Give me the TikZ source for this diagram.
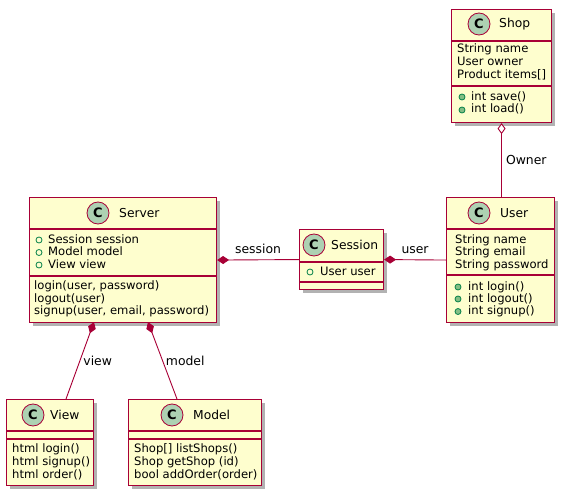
\documentclass[tikz,border=0pt]{standalone}
\usepackage{fontspec}
\setmainfont{DejaVu Sans}
\usetikzlibrary{arrows.meta, shadows}

\definecolor{umlred}{HTML}{A80036}
\definecolor{umlfill}{HTML}{FEFECE}
\definecolor{umlcircle}{HTML}{ADD1B2}
\definecolor{fieldgreen}{HTML}{038048}
\definecolor{methodgreen}{HTML}{84BE84}

\begin{document}
\begin{tikzpicture}[x=1pt, y=-1pt,
    classbox/.style={draw=umlred, fill=umlfill, line width=1.1pt, inner sep=0pt, anchor=north west,
        drop shadow={shadow xshift=3.5pt, shadow yshift=-3.5pt, fill=black, opacity=0.3}},
    sepline/.style={umlred, line width=1.1pt},
    ccircle/.style={circle, draw=umlred, fill=umlcircle, line width=0.8pt, minimum size=22pt, inner sep=0pt,
        font=\fontsize{13}{14}\selectfont\bfseries},
    classname/.style={anchor=west, inner sep=0pt, font=\fontsize{12.3}{14}\selectfont},
    member/.style={anchor=west, inner sep=0pt, text height=8.5pt, text depth=2.5pt, font=\fontsize{11.6}{13}\selectfont},
    field/.style={circle, draw=fieldgreen, line width=0.8pt, minimum size=6pt, inner sep=0pt},
    method/.style={field, fill=methodgreen},
    comp/.style={draw=umlred, line width=0.9pt, arrows={Diamond[length=12pt, width=8pt, fill=umlred]-}},
    aggr/.style={draw=umlred, line width=0.9pt, arrows={Diamond[open, length=11pt, width=8pt, fill=white]-}},
    edgelabel/.style={font=\fontsize{12.4}{14}\selectfont, inner sep=3pt}
]
    \useasboundingbox (0,0) rectangle (563,495);

    % Shop class
    \node[classbox, minimum width=100pt, minimum height=113pt] (shop) at (451,9) {};
    \draw[sepline] (451,41) -- (551,41);
    \draw[sepline] (451,86) -- (551,86);
    \node[ccircle] (shop-c) at (479,24) {C};
    \node[classname] (shop-name) at (499,24) {Shop};
    \node[member] (shop-a1) at (457,50) {String name};
    \node[member] (shop-a2) at (457,63) {User owner};
    \node[member] (shop-a3) at (457,76) {Product items[]};
    \node[method] (shop-v1) at (462,97) {};
    \node[method] (shop-v2) at (462,110) {};
    \node[member] (shop-m1) at (471,97) {int save()};
    \node[member] (shop-m2) at (471,110) {int load()};

    % Server class
    \node[classbox, minimum width=187pt, minimum height=125pt] (server) at (29,197) {};
    \draw[sepline] (29,229) -- (216,229);
    \draw[sepline] (29,276) -- (216,276);
    \node[ccircle] (server-c) at (98,213) {C};
    \node[classname] (server-name) at (119,213) {Server};
    \node[field] (server-v1) at (39,240) {};
    \node[field] (server-v2) at (39,252.5) {};
    \node[field] (server-v3) at (39,265) {};
    \node[member] (server-a1) at (48,240) {Session session};
    \node[member] (server-a2) at (48,252.5) {Model model};
    \node[member] (server-a3) at (48,265) {View view};
    \node[member] (server-m1) at (34,286.5) {login(user, password)};
    \node[member] (server-m2) at (34,299) {logout(user)};
    \node[member] (server-m3) at (34,311.5) {signup(user, email, password)};

    % Session class
    \node[classbox, minimum width=84pt, minimum height=60pt] (session) at (299,229) {};
    \draw[sepline] (299,262) -- (383,262);
    \draw[sepline] (299,282) -- (383,282);
    \node[ccircle] (session-c) at (314,245) {C};
    \node[classname] (session-name) at (331,245) {Session};
    \node[field] (session-v1) at (310,272) {};
    \node[member] (session-a1) at (320,272) {User user};

    % User class
    \node[classbox, minimum width=108pt, minimum height=125pt] (user) at (446,197) {};
    \draw[sepline] (446,229) -- (554,229);
    \draw[sepline] (446,275) -- (554,275);
    \node[ccircle] (user-c) at (479,213) {C};
    \node[classname] (user-name) at (500,213) {User};
    \node[member] (user-a1) at (455,240) {String name};
    \node[member] (user-a2) at (455,252.5) {String email};
    \node[member] (user-a3) at (455,265) {String password};
    \node[method] (user-v1) at (458,287) {};
    \node[method] (user-v2) at (458,299) {};
    \node[method] (user-v3) at (458,311.5) {};
    \node[member] (user-m1) at (468,287) {int login()};
    \node[member] (user-m2) at (468,299) {int logout()};
    \node[member] (user-m3) at (468,311.5) {int signup()};

    % View class
    \node[classbox, minimum width=87pt, minimum height=86pt] (view) at (6,399) {};
    \draw[sepline] (6,431) -- (93,431);
    \draw[sepline] (6,439) -- (93,439);
    \node[ccircle] (view-c) at (33,415) {C};
    \node[classname] (view-name) at (50,415) {View};
    \node[member] (view-m1) at (12,449) {html login()};
    \node[member] (view-m2) at (12,462) {html signup()};
    \node[member] (view-m3) at (12,475) {html order()};

    % Model class
    \node[classbox, minimum width=133pt, minimum height=86pt] (model) at (128,399) {};
    \draw[sepline] (128,431) -- (261,431);
    \draw[sepline] (128,439) -- (261,439);
    \node[ccircle] (model-c) at (172,415) {C};
    \node[classname] (model-name) at (193,415) {Model};
    \node[member] (model-m1) at (134,449) {Shop[] listShops()};
    \node[member] (model-m2) at (134,462) {Shop getShop (id)};
    \node[member] (model-m3) at (134,475) {bool addOrder(order)};

    % Relations
    \coordinate (server-to-view) at (94,322);
    \coordinate (view-top) at (66,399);
    \coordinate (server-to-model) at (148,322);
    \coordinate (model-top) at (177,399);

    \draw[comp] (server.east) -- node[edgelabel, above=3pt] (lbl-session) {session} (session.west);
    \draw[comp] (session.east) -- node[edgelabel, above=3pt] (lbl-user) {user} (user.west);
    \draw[aggr] (shop.south) -- node[edgelabel, right=1pt] (lbl-owner) {Owner} (shop.south |- user.north);
    \draw[comp] (server-to-view) -- node[edgelabel, right] (lbl-view) {view} (view-top);
    \draw[comp] (server-to-model) -- node[edgelabel, right] (lbl-model) {model} (model-top);

\end{tikzpicture}
\end{document}
